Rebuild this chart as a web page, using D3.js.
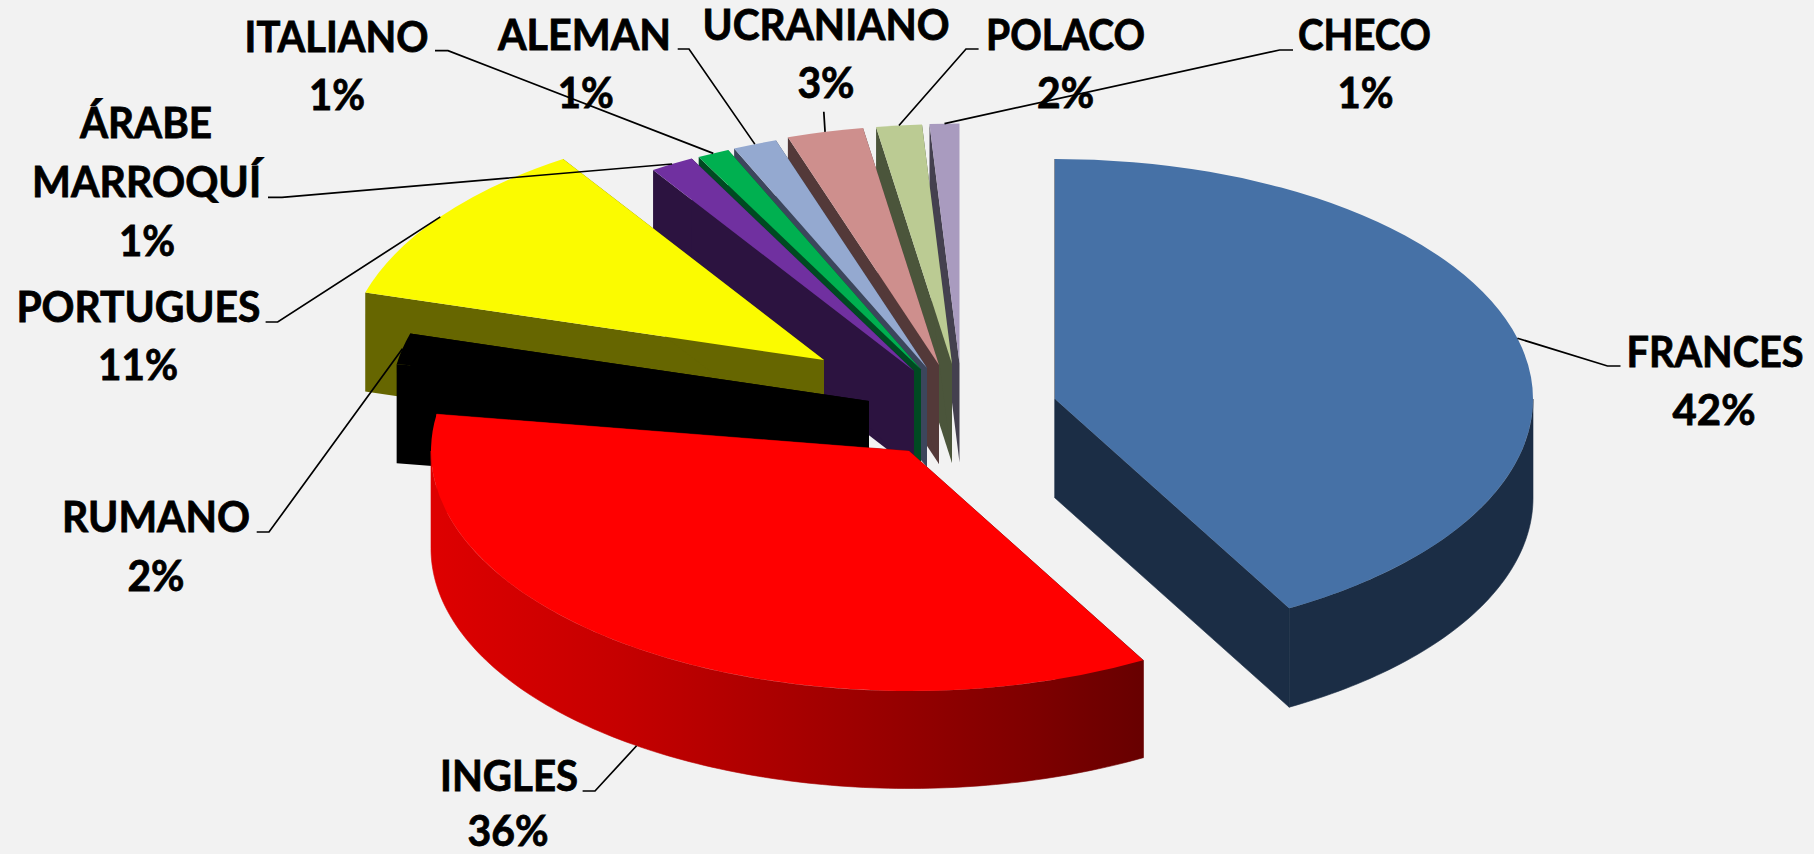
<!DOCTYPE html>
<html lang="es">
<head>
<meta charset="utf-8">
<title>Idiomas</title>
<script src="https://cdn.jsdelivr.net/npm/d3@7/dist/d3.min.js"></script>
<style>
html,body{margin:0;padding:0;background:#F2F2F2;overflow:hidden}
svg{display:block}
text{font-family:Lato,"Open Sans",sans-serif;font-weight:700;fill:#000;stroke:#000;stroke-width:.8px}
</style>
</head>
<body>
<svg id="chart" width="1814" height="854"></svg>
<script>
// ---- data, clockwise from 12 o'clock ----
const languages = ["FRANCES","INGLES","RUMANO","PORTUGUES","ÁRABE MARROQUÍ","ITALIANO","ALEMAN","UCRANIANO","POLACO","CHECO"];
const shares    = [41.85,35.6,2.08,11.28,1.49,1.09,1.49,2.58,1.54,1.0];

// ---- styles ----
const topColors  = ["#4671A6","#FF0000","#000000","#FBFB00","#7030A0","#00B050","#94A9D0","#CE8F8D","#BBCB93","#A99BBF"];
const wallColors = ["#1B2D45","url(#redWall)","#000000","#666600","#2C1340","#004A22","#3C465C","#533939","#4B553B","#44404F"];

// ---- layout: where each exploded slice's hub lands ----
const hubX = [1055,909,869,824,914,921,927,939,952,959.5];
const hubY = [399,451,401,360,371,369.5,368,365,364,363.5];
const thickness = [99,97.5,99,99,99,99,99,99,99,99];
const radiusX = 478, radiusY = 240;

// ---- labels: text lines + centre x, baseline y, drawn width ----
const labelLines = [
  [["FRANCES",1715,366.5,177],["42%",1714,425,83]],
  [["INGLES",509,791,138],["36%",508,846,81]],
  [["RUMANO",156,532,188],["2%",156,591,57]],
  [["PORTUGUES",138.4,322,244],["11%",138,380,80]],
  [["ÁRABE",146,138,132],["MARROQUÍ",146.6,197,229],["1%",147,256,56]],
  [["ITALIANO",336.6,52,184],["1%",337,110,56]],
  [["ALEMAN",584.5,50,173],["1%",585.7,108,56]],
  [["UCRANIANO",826,40,247],["3%",826,98,57]],
  [["POLACO",1065.5,50,159],["2%",1065.6,108,57]],
  [["CHECO",1364.5,50,133],["1%",1365.6,108,56]]
];
// leader elbows: tail x, elbow x, y
const leaderElbows = [
  [1620.5,1607.5,366],[582.6,595,791],[256.7,269,532],[265.6,277.7,322],
  [268,282,197.3],[435,448,50.7],[677.7,689,49],[823.8,823.8,111.7],
  [978.6,966,49],[1293,1279.6,50]
];
// front-facing slices carry their leader on the lower rim
const leaderOnBottomRim = [false,true,false,false,false,false,false,false,false,false];

const svg = d3.select("#chart");
const pie = d3.pie().sort(null)(shares);

// red wall gradient, left to right across the slice
const xRed = d3.scaleLinear().domain([0,1]).range([hubX[1]-radiusX, hubX[1]+radiusX*0.55]);
const grad = svg.append("defs").append("linearGradient")
  .attr("id","redWall").attr("gradientUnits","userSpaceOnUse")
  .attr("x1",xRed(0)).attr("x2",xRed(1)).attr("y1",0).attr("y2",0);
[[0,"#DE0000"],[.25,"#C60000"],[.55,"#A00000"],[.8,"#800000"],[.97,"#660000"],[1,"#660000"]]
  .forEach(s=>grad.append("stop").attr("offset",s[0]).attr("stop-color",s[1]));

const project = (i,theta,r,z) => [
  hubX[i] + Math.sin(theta)*radiusX*r,
  hubY[i] - Math.cos(theta)*radiusY*r + z
];
const line = d3.line();
const arcTop = d3.arc().innerRadius(0).outerRadius(radiusX);

// only the front half of the rim (3 to 9 o'clock) can be seen
function rimWall(i){
  const a = Math.max(pie[i].startAngle, Math.PI/2), b = Math.min(pie[i].endAngle, 3*Math.PI/2);
  if (b <= a) return null;
  const n = Math.max(4, Math.ceil((b-a)*180/Math.PI));
  const th = d3.range(n+1).map(k => a + (b-a)*k/n);
  const top = th.map(t => project(i,t,1,0));
  const bot = th.map(t => project(i,t,1,thickness[i])).reverse();
  return line(top.concat(bot)) + "Z";
}
function radialWall(i,theta){
  return line([project(i,theta,0,0),project(i,theta,1,0),project(i,theta,1,thickness[i]),project(i,theta,0,thickness[i])]) + "Z";
}

// paint: French slice, then from the back slices toward the front
const paintOrder = [0,9,8,7,6,5,4,3,2,1];
const slices = svg.append("g").selectAll("g").data(paintOrder).join("g");
slices.each(function(i){
  const g = d3.select(this);
  const rim = rimWall(i);
  const seam = rim ? .6 : 0;   // closes the hairline between rim and radial face
  [pie[i].startAngle, pie[i].endAngle].forEach(t =>
    g.append("path").attr("d",radialWall(i,t)).attr("fill",wallColors[i])
      .attr("stroke",wallColors[i]).attr("stroke-width",seam));
  if (rim) g.append("path").attr("d",rim).attr("fill",wallColors[i]).attr("stroke",wallColors[i]).attr("stroke-width",seam);
  g.append("path")
    .attr("transform",`translate(${hubX[i]},${hubY[i]}) scale(1,${radiusY/radiusX})`)
    .attr("d",arcTop({startAngle:pie[i].startAngle,endAngle:pie[i].endAngle}))
    .attr("fill",topColors[i]);
});

// leaders
svg.append("g").selectAll("path").data(d3.range(languages.length)).join("path")
  .attr("fill","none").attr("stroke","#000").attr("stroke-width",1.7)
  .attr("d", i=>{
    const mid = (pie[i].startAngle+pie[i].endAngle)/2;
    const e = leaderElbows[i];
    const end = project(i,mid,1,leaderOnBottomRim[i]?thickness[i]:0);
    return line([[e[0],e[2]],[e[1],e[2]],end]);
  });

// labels
svg.append("g").selectAll("text").data(labelLines.flat()).join("text")
  .attr("x",d=>d[1]-d[3]/2).attr("y",d=>d[2])
  .attr("font-size",42)
  .attr("textLength",d=>d[3]).attr("lengthAdjust","spacingAndGlyphs")
  .text(d=>d[0]);
</script>
</body>
</html>
